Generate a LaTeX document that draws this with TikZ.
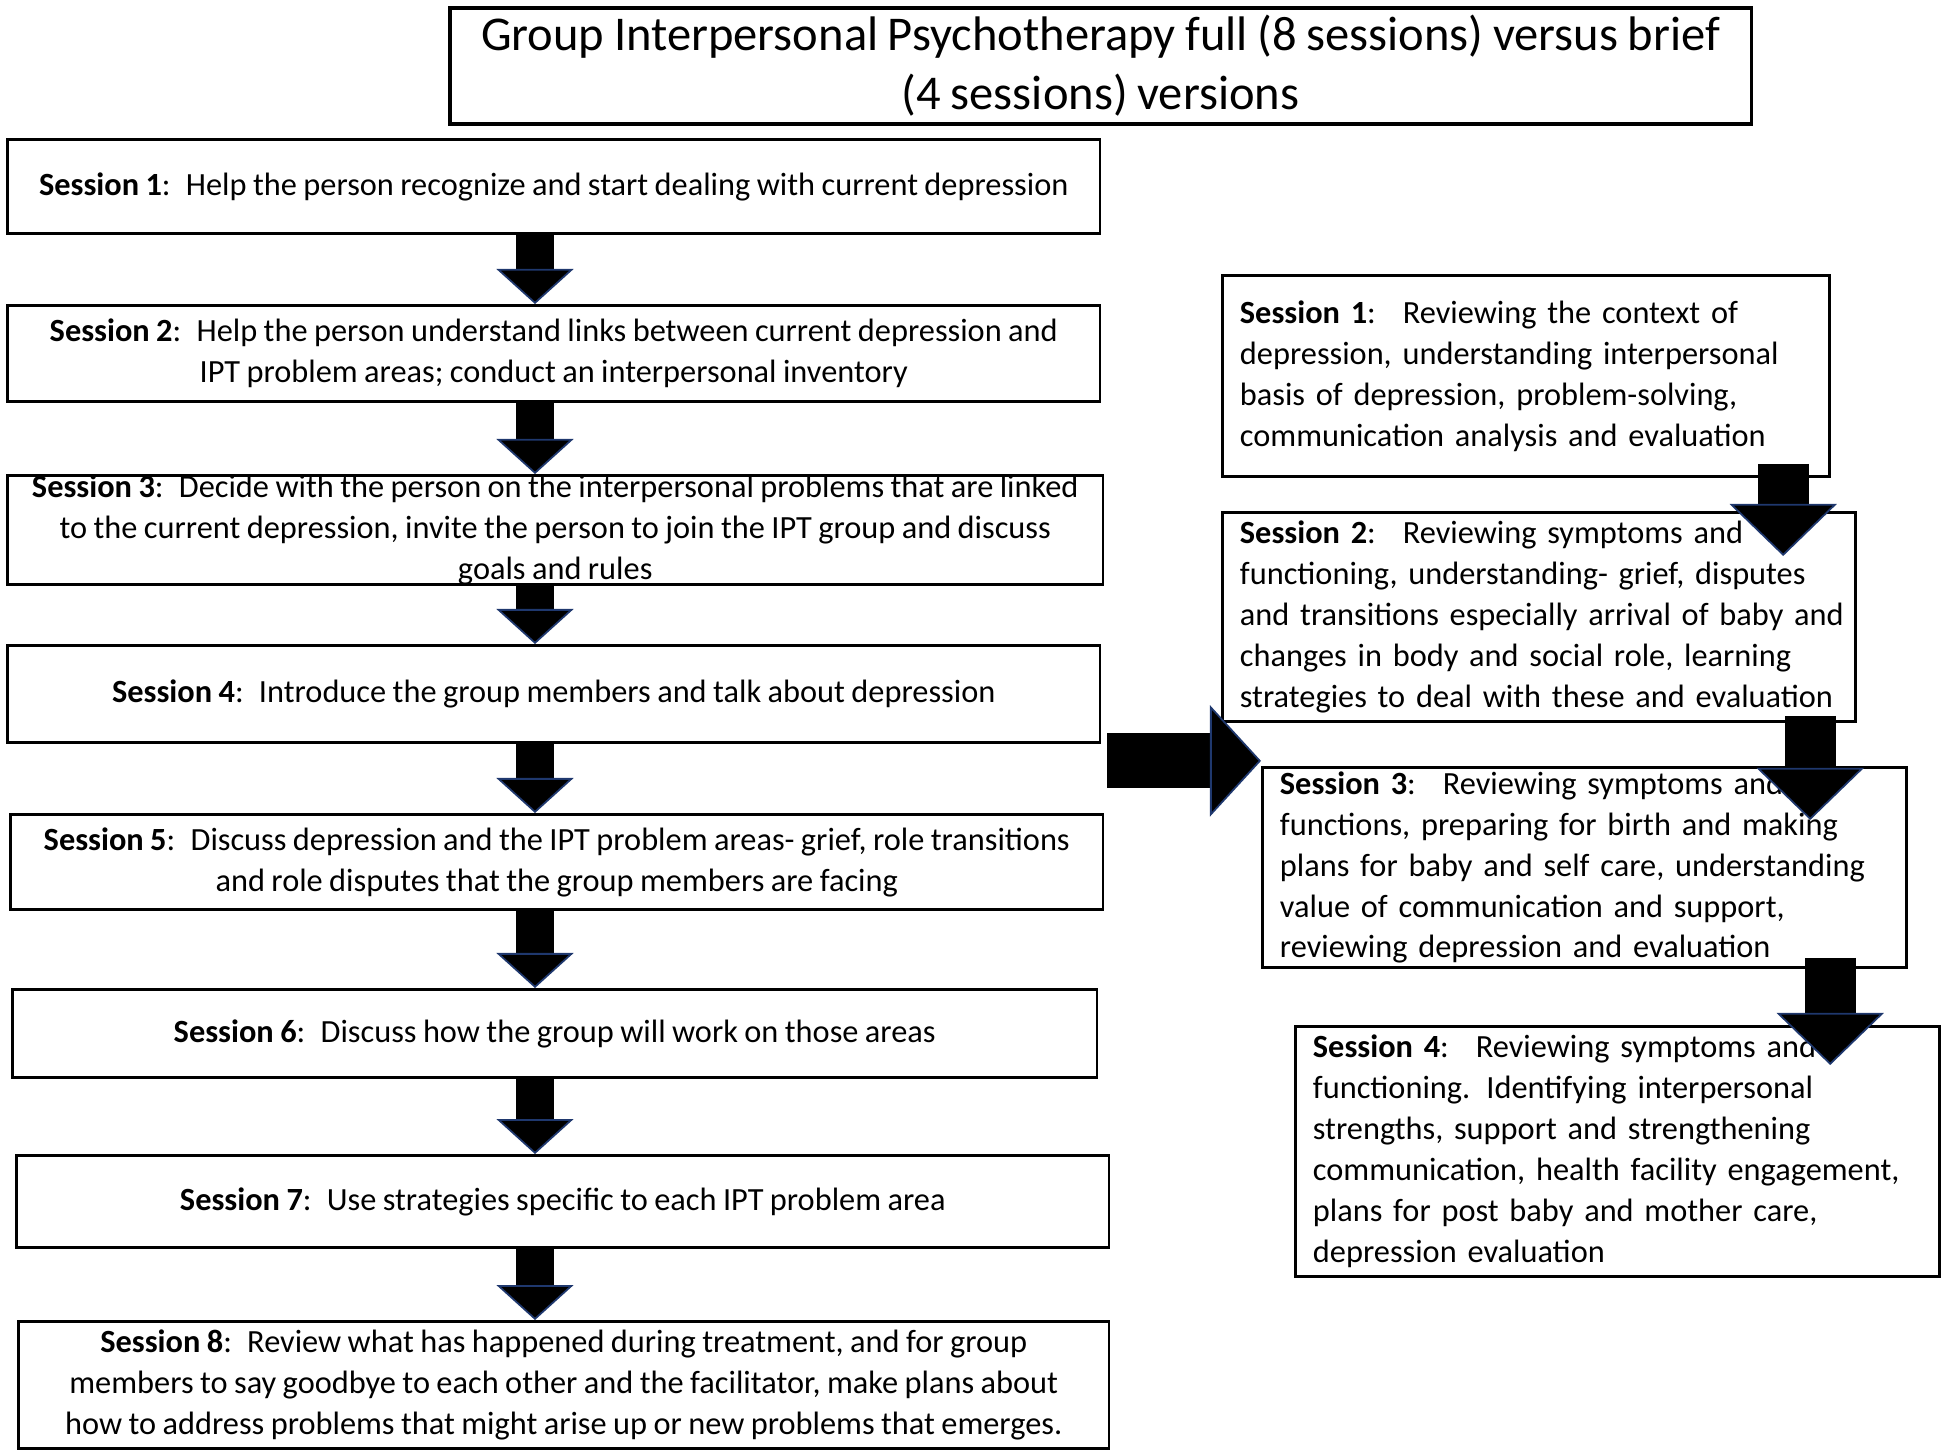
\documentclass[tikz,border=0pt]{standalone}
\usepackage{fontspec}
\setmainfont{Carlito}[WordSpace=0.88]
\usetikzlibrary{arrows.meta,positioning,calc}
\definecolor{arrowedge}{RGB}{31,56,110}
\hyphenpenalty=10000

\begin{document}
\begin{tikzpicture}[x=0.01cm,y=-0.01cm,
    titlebox/.style={draw,line width=1pt,anchor=north west,align=center,inner sep=1pt,
      font=\fontsize{13.8}{16.7}\selectfont},
    leftbox/.style={draw,line width=0.8pt,anchor=north west,align=center,inner xsep=2pt,inner ysep=1pt,
      font=\fontsize{9.2}{11.65}\selectfont},
    rightbox/.style={draw,line width=0.8pt,anchor=north west,align=left,inner xsep=0.175cm,inner ysep=1pt,
      font=\fontsize{9.2}{11.65}\selectfont},
    fullarrow/.style={line width=0.37cm,
      -{Triangle[width=0.77cm,length=0.35cm,line width=0.5pt,fill=black,color=arrowedge]}},
    briefarrow/.style={line width=0.51cm,
      -{Triangle[width=1.07cm,length=0.52cm,line width=0.5pt,fill=black,color=arrowedge]}},
    sidearrow/.style={line width=0.55cm,
      -{Triangle[width=1.11cm,length=0.51cm,line width=0.5pt,fill=black,color=arrowedge]}}]
    \useasboundingbox (0,0) rectangle (1946,1451);

    % title
    \node[titlebox,minimum width=13.01cm,minimum height=1.16cm] (ttl) at (448,6)
      {Group Interpersonal Psychotherapy full (8 sessions) versus brief\\(4 sessions) versions};

    % full version, 8 sessions
    \node[leftbox,minimum width=10.92cm,minimum height=0.94cm] (s1) at (6,138)
      {\textbf{Session 1}:~ Help the person recognize and start dealing with current depression};
    \node[leftbox,minimum width=10.92cm,minimum height=0.96cm] (s2) at (6,304)
      {\textbf{Session 2}:~ Help the person understand links between current depression and\\
       IPT problem areas; conduct an interpersonal inventory};
    \node[leftbox,minimum width=10.95cm,minimum height=1.09cm,inner ysep=-0.6pt] (s3) at (6,474)
      {\textbf{Session 3}:~ Decide with the person on the interpersonal problems that are linked\\
       to the current depression, invite the person to join the IPT group and discuss\\
       goals and rules};
    \node[leftbox,minimum width=10.92cm,minimum height=0.97cm] (s4) at (6,644)
      {\textbf{Session 4}:~ Introduce the group members and talk about depression};
    \node[leftbox,minimum width=10.92cm,minimum height=0.95cm] (s5) at (9,813)
      {\textbf{Session 5}:~ Discuss depression and the IPT problem areas- grief, role transitions\\
       and role disputes that the group members are facing};
    \node[leftbox,minimum width=10.84cm,minimum height=0.88cm] (s6) at (11,988)
      {\textbf{Session 6}:~ Discuss how the group will work on those areas};
    \node[leftbox,minimum width=10.92cm,minimum height=0.92cm] (s7) at (15,1154)
      {\textbf{Session 7}:~ Use strategies specific to each IPT problem area};
    \node[leftbox,minimum width=10.90cm,minimum height=1.27cm] (s8) at (17,1320)
      {\textbf{Session 8}:~ Review what has happened during treatment, and for group\\
       members to say goodbye to each other and the facilitator, make plans about\\
       how to address problems that might arise up or new problems that emerges.};

    % brief version, 4 sessions
    \node[rightbox,text width=5.72cm,minimum height=2.01cm] (r1) at (1221,274)
      {\textbf{Session 1}:~ Reviewing the context of\\
       depression, understanding interpersonal\\
       basis of depression, problem-solving,\\
       communication analysis and evaluation};
    \node[rightbox,text width=5.98cm,minimum height=2.09cm] (r2) at (1221,511)
      {\textbf{Session 2}:~ Reviewing symptoms and\\
       functioning, understanding- grief, disputes\\
       \mbox{and transitions especially arrival of baby and}\\
       changes in body and social role, learning\\
       strategies to deal with these and evaluation};
    \node[rightbox,text width=6.09cm,minimum height=2.00cm] (r3) at (1261,766)
      {\textbf{Session 3}:~ Reviewing symptoms and\\
       functions, preparing for birth and making\\
       plans for baby and self care, understanding\\
       value of communication and support,\\
       reviewing depression and evaluation};
    \node[rightbox,text width=6.09cm,minimum height=2.50cm] (r4) at (1294,1025)
      {\textbf{Session 4}:~ Reviewing symptoms and\\
       functioning. Identifying interpersonal\\
       strengths, support and strengthening\\
       communication, health facility engagement,\\
       plans for post baby and mother care,\\
       depression evaluation};

    % arrows
    \coordinate (ax) at (535,0);
    \foreach \a/\b in {s1/s2,s2/s3,s3/s4,s4/s5,s5/s6,s6/s7,s7/s8}
      \draw[fullarrow] (\a.south -| ax) -- (\b.north -| ax);

    \coordinate (t1) at ([shift={(-48,-14)}]r1.south east);
    \coordinate (t2) at ([shift={(-47,-7)}]r2.south east);
    \coordinate (t3) at ([shift={(-78,-11)}]r3.south east);
    \draw[briefarrow] (t1) -- ($(t1 |- r2.north)+(0,45)$);
    \draw[briefarrow] (t2) -- ($(t2 |- r3.north)+(0,54)$);
    \draw[briefarrow] (t3) -- ($(t3 |- r4.north)+(0,40)$);

    \coordinate (t4) at ([shift={(6,17)}]s4.south east);
    \draw[sidearrow] (t4) -- (t4 -| r3.west);
\end{tikzpicture}
\end{document}
